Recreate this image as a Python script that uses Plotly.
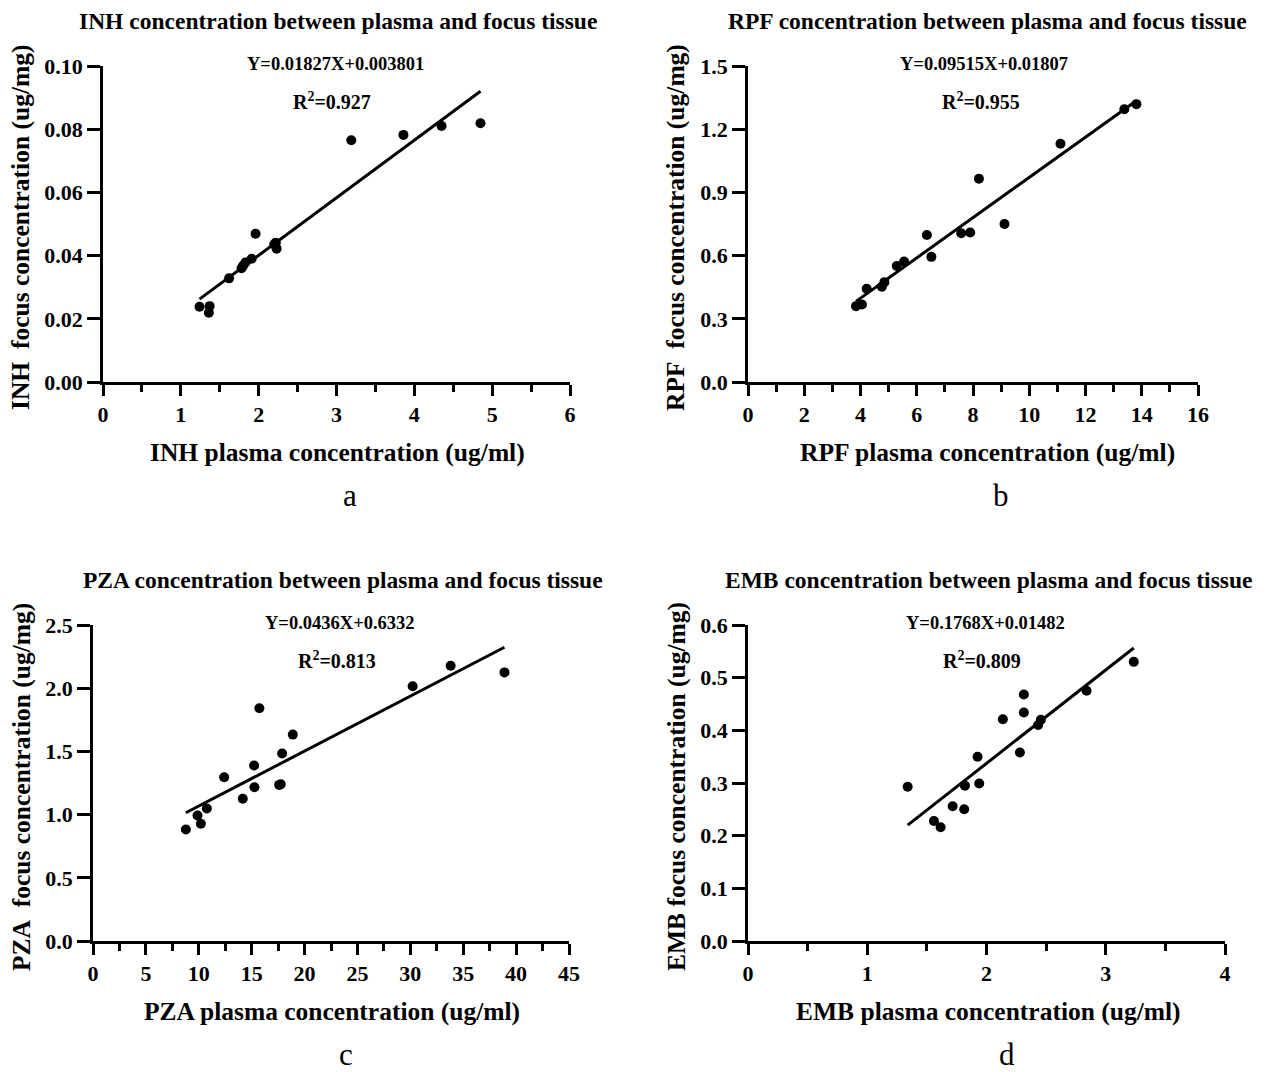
import numpy as np
import plotly.graph_objects as go

W, H = 1266, 1072
OFF = 8  # page offset of the figure inside the browser window

# ---------------- data ----------------
inh_plasma = [1.24, 1.37, 1.36, 1.62, 1.78, 1.80, 1.83, 1.91, 1.96, 2.20, 2.22, 2.23, 3.19, 3.86, 4.35, 4.85]
inh_focus = [0.0238, 0.0240, 0.0219, 0.0328, 0.0360, 0.0368, 0.0378, 0.0390, 0.0469, 0.0436, 0.0441, 0.0422, 0.0765, 0.0782, 0.0810, 0.0819]

rpf_plasma = [3.84, 4.05, 4.22, 4.76, 4.85, 5.29, 5.55, 6.36, 6.52, 7.58, 7.90, 8.21, 9.12, 11.11, 13.38, 13.81]
rpf_focus = [0.360, 0.368, 0.443, 0.452, 0.474, 0.551, 0.572, 0.698, 0.594, 0.706, 0.710, 0.965, 0.750, 1.131, 1.295, 1.319]

pza_plasma = [8.78, 9.88, 10.20, 10.76, 12.40, 14.16, 15.23, 15.26, 15.73, 17.60, 17.75, 17.88, 18.89, 30.22, 33.81, 38.90]
pza_focus = [0.882, 0.993, 0.927, 1.048, 1.296, 1.125, 1.388, 1.217, 1.841, 1.235, 1.240, 1.483, 1.633, 2.015, 2.178, 2.125]

emb_plasma = [1.339, 1.559, 1.615, 1.716, 1.813, 1.819, 1.925, 1.939, 2.137, 2.280, 2.313, 2.313, 2.433, 2.456, 2.839, 3.235]
emb_focus = [0.293, 0.228, 0.216, 0.256, 0.250, 0.295, 0.350, 0.299, 0.421, 0.358, 0.468, 0.434, 0.410, 0.420, 0.475, 0.530]

drugs = ["INH", "RPF", "PZA", "EMB"]
equations = ["Y=0.01827X+0.003801", "Y=0.09515X+0.01807", "Y=0.0436X+0.6332", "Y=0.1768X+0.01482"]
r_squared = ["0.927", "0.955", "0.813", "0.809"]
panel_letters = ["a", "b", "c", "d"]

x_ranges = [[0, 6], [0, 16], [0, 45], [0, 4]]
x_dticks = [1, 2, 5, 1]
y_ranges = [[0, 0.10], [0, 1.5], [0, 2.5], [0, 0.6]]
y_dticks = [0.02, 0.3, 0.5, 0.1]
y_formats = [".2f", ".1f", ".1f", ".1f"]
y_title_gap = ["\u00a0 ", "\u00a0 ", "\u00a0 ", " "]

datasets = [(inh_plasma, inh_focus), (rpf_plasma, rpf_focus),
            (pza_plasma, pza_focus), (emb_plasma, emb_focus)]

# ---------------- layout geometry (window pixels) ----------------
# plot boxes: (left, right, top, bottom)
boxes = [(103, 570, 66, 382), (748, 1198, 66, 382),
         (93, 569, 625, 941), (748, 1225, 625, 941)]
centers_x = [338, 987, 343, 988]
xtitle_x = [337, 987, 332, 988]
letter_x = [350, 1001, 346, 1007]
ytitle_x = [21, 676, 21, 676]

FONT = "Liberation Serif"

fig = go.Figure()
annotations = []


def px(x):
    return (x - OFF) / W


def py(y):
    return 1 - (y - OFF) / H


for i, (xs, ys) in enumerate(datasets):
    n = "" if i == 0 else str(i + 1)
    xa, ya = "x" + n, "y" + n
    l, r, t, b = boxes[i]

    fig.add_trace(go.Scatter(x=xs, y=ys, mode="markers", xaxis=xa, yaxis=ya,
                             marker=dict(size=10, color="black"), showlegend=False))
    k, c0 = np.polyfit(xs, ys, 1)
    lx = np.array([min(xs), max(xs)])
    fig.add_trace(go.Scatter(x=lx, y=k * lx + c0, mode="lines", xaxis=xa, yaxis=ya,
                             line=dict(color="black", width=3), showlegend=False))

    axis_common = dict(showline=True, linecolor="black", linewidth=2.5,
                       ticks="outside", tickwidth=2.5, tickcolor="black",
                       showgrid=False, zeroline=False, automargin=False,
                       tickfont=dict(family=FONT, size=22, color="black", weight="bold"))
    fig.layout["xaxis" + n] = dict(axis_common, domain=[px(l), px(r)], anchor=ya,
                                   range=x_ranges[i], dtick=x_dticks[i], tick0=0, ticklen=11,
                                   minor=dict(ticks="outside", ticklen=7, tickwidth=2.5,
                                              tickcolor="black", dtick=x_dticks[i] / 2),
                                   ticklabelstandoff=0)
    fig.layout["yaxis" + n] = dict(axis_common, domain=[py(b), py(t)], anchor=xa,
                                   range=y_ranges[i], dtick=y_dticks[i], tick0=0, ticklen=13,
                                   tickformat=y_formats[i], ticklabelstandoff=0)

    cx = centers_x[i]
    annotations += [
        dict(x=px(cx), y=py(t - 45), text=f"{drugs[i]} concentration between plasma and focus tissue",
             font=dict(family=FONT, size=23.5, color="black", weight="bold")),
        dict(x=px(cx - 3), y=py(t - 2), text=equations[i],
             font=dict(family=FONT, size=18.5, color="black", weight="bold")),
        dict(x=px(cx - 6), y=py(t + 35), text=f"R<sup>2</sup>={r_squared[i]}",
             font=dict(family=FONT, size=20, color="black", weight="bold")),
        dict(x=px(xtitle_x[i]), y=py(b + 70), text=f"{drugs[i]} plasma concentration (ug/ml)",
             font=dict(family=FONT, size=25.5, color="black", weight="bold")),
        dict(x=px(ytitle_x[i]), y=py(t + 162), textangle=-90,
             text=f"{drugs[i]}{y_title_gap[i]}focus concentration (ug/mg)",
             font=dict(family=FONT, size=25.5, color="black", weight="bold")),
        dict(x=px(letter_x[i]), y=py(b + 113), text=panel_letters[i],
             font=dict(family=FONT, size=31, color="black")),
    ]

for a in annotations:
    a.update(xref="paper", yref="paper", showarrow=False, xanchor="center", yanchor="middle")

fig.update_layout(width=W, height=H,
                  margin=dict(l=0, r=0, t=0, b=0, pad=0, autoexpand=False),
                  paper_bgcolor="white", plot_bgcolor="white",
                  annotations=annotations, showlegend=False)

fig.write_html("out.html")
